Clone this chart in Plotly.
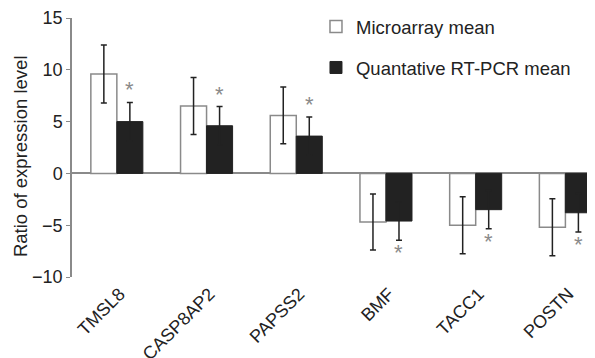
import plotly.graph_objects as go

genes = ["TMSL8", "CASP8AP2", "PAPSS2", "BMF", "TACC1", "POSTN"]
micro_mean = [9.6, 6.5, 5.6, -4.7, -5.0, -5.2]
micro_err = [2.8, 2.75, 2.75, 2.7, 2.75, 2.75]
pcr_mean = [5.0, 4.6, 3.6, -4.6, -3.5, -3.8]
pcr_err = [1.85, 1.85, 1.85, 1.85, 1.85, 1.85]
y_ticks = [-10, -5, 0, 5, 10, 15]

FONT = "Liberation Sans, Arial, sans-serif"

fig = go.Figure()
fig.add_trace(go.Bar(
    x=genes, y=micro_mean, name="Microarray mean", legendgroup="a",
    marker=dict(color="white", line=dict(color="#8a8a8a", width=1.5)),
    error_y=dict(type="data", array=micro_err, color="#222", thickness=1.5, width=3),
))
fig.add_trace(go.Bar(
    x=genes, y=pcr_mean, name="Quantative RT-PCR mean", legendgroup="b",
    marker=dict(color="#222", line=dict(color="#222", width=1)),
    error_y=dict(type="data", array=pcr_err, color="#222", thickness=1.5, width=3),
))

# significance asterisks over/under the RT-PCR bars
for i, (m, e) in enumerate(zip(pcr_mean, pcr_err)):
    pos = m >= 0
    fig.add_annotation(
        x=i + 0.145, y=(m + e) if pos else (m - e), xref="x", yref="y",
        text="*", showarrow=False,
        yanchor="bottom" if pos else "top",
        yshift=-2 if pos else 2,
        font=dict(family=FONT, size=22, color="#8a8a8a"),
    )

fig.add_annotation(
    x=-0.0994, y=0.467, xref="paper", yref="paper", text="Ratio of expression level",
    textangle=-90, showarrow=False, xanchor="center", yanchor="middle",
    font=dict(family=FONT, size=18.5, color="#222"),
)

# page body adds an 8px margin; figure sized to fill the rest of the window
fig.update_layout(
    width=587, height=350,
    margin=dict(l=64, r=0, t=10, b=81, autoexpand=False),
    paper_bgcolor="white", plot_bgcolor="white",
    barmode="group", bargap=0.42, bargroupgap=0,
    font=dict(family=FONT, size=18, color="#222"),
    showlegend=True,
    legend=dict(x=0.4665, y=1.039, xanchor="left", yanchor="top",
                traceorder="grouped", tracegroupgap=14,
                bgcolor="rgba(0,0,0,0)", font=dict(family=FONT, size=18.5, color="#222"),
                itemwidth=30),
    xaxis=dict(range=[-0.5, 5.33], showline=False, ticks="", showgrid=False, automargin=False,
               tickangle=-45, ticklabelshift=3, ticklabelstandoff=2,
               tickfont=dict(family=FONT, size=18, color="#222")),
    yaxis=dict(range=[-10, 15], tickvals=y_ticks, showline=True, linecolor="#8a8a8a",
               linewidth=1.5, ticks="outside", ticklen=4, tickcolor="#8a8a8a", automargin=False,
               showgrid=False, zeroline=True, zerolinecolor="#8a8a8a", zerolinewidth=1.5,
               tickfont=dict(family=FONT, size=18, color="#222")),
)

fig.write_html("out.html")
